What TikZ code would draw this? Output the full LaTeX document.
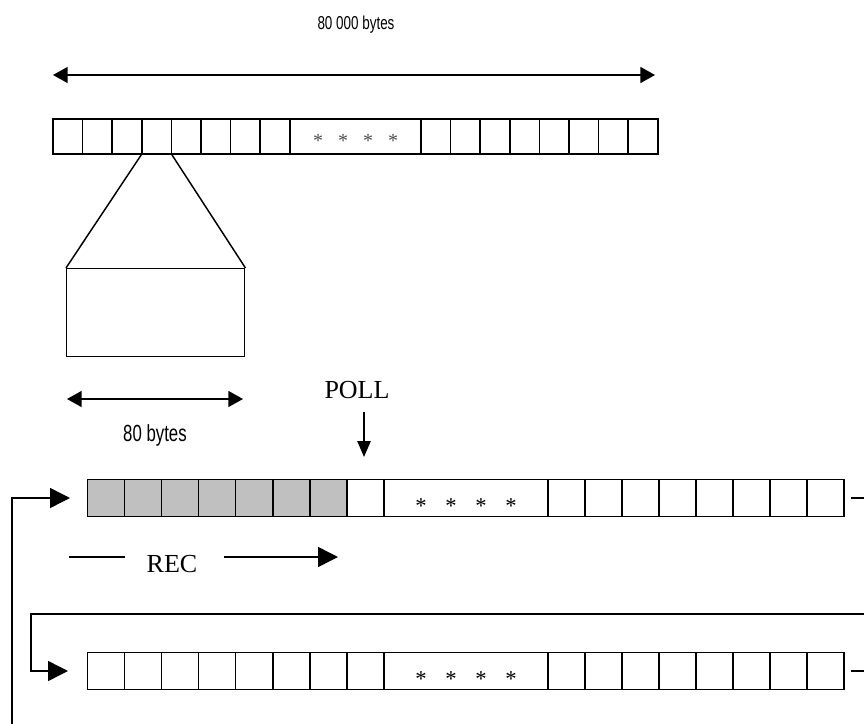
\documentclass[tikz,border=0pt]{standalone}
\usepackage{fontspec}
\setmainfont{Liberation Serif}
\newfontfamily\narrowsans[FakeStretch=0.72]{Liberation Sans}
\usepackage{tikz}
\usetikzlibrary{arrows.meta, positioning, calc}
\definecolor{cellgray}{RGB}{192,192,192}
\newcommand{\cellw}{29.6}
\newcommand{\slotw}{37.1}

\begin{document}
\begin{tikzpicture}[x=0.75pt, y=-0.75pt,
    cellline/.style={line width=1.1pt},
    guide/.style={line width=1.1pt},
    dimtip/.style={line width=1.1pt, {Triangle[length=11pt, width=12pt]}-{Triangle[length=11pt, width=12pt]}},
    polltip/.style={line width=1.1pt, -{Triangle[length=12pt, width=10pt]}},
    bigtip/.style={line width=1.1pt, -{Triangle[length=15pt, width=15pt]}},
    topstar/.style={inner sep=0pt, text=black!70, font=\fontsize{15}{15}\selectfont},
    rowstar/.style={inner sep=0pt, font=\fontsize{17}{17}\selectfont}]
    \useasboundingbox (0,0) rectangle (864,724);

    % Whole buffer : 80 000 bytes
    \node[font=\narrowsans\fontsize{14}{16}\selectfont] (total) at (356,25) {80 000 bytes};
    \coordinate (totL) at (53,75);
    \coordinate (totR) at (655,75);
    \draw[dimtip] (totL) -- (totR);

    \foreach \i in {0,...,7} {
        \draw[cellline] ({53+\cellw*\i},119) rectangle ++(\cellw,35);
        \draw[cellline] ({421+\cellw*\i},119) rectangle ++(\cellw,35);
    }
    \draw[cellline] (289.8,119) rectangle (421,154);
    \foreach \x in {318,343,368,393}
        \node[topstar] (ts\x) at (\x,141) {*};

    % One record blown up
    \coordinate (zl) at (141.8,154);
    \coordinate (zr) at (171.4,154);
    \node[draw, line width=1.1pt, inner sep=0pt, anchor=north west,
          minimum width=178*0.75pt, minimum height=88*0.75pt] (zoombox) at (66,268) {};
    \draw[guide] (zl) -- (zoombox.north west);
    \draw[guide] (zr) -- (zoombox.north east);

    \coordinate (recL) at (67,399);
    \coordinate (recR) at (243,399);
    \draw[dimtip] (recL) -- (recR);
    \node[font=\narrowsans\fontsize{17.5}{20}\selectfont] (bytes) at (155,435) {80 bytes};

    % Poll pointer
    \node[font=\fontsize{19.5}{22}\selectfont] (poll) at (357,390) {POLL};
    \coordinate (pollA) at (364,412);
    \coordinate (pollB) at (364,457);
    \draw[polltip] (pollA) -- (pollB);

    % Buffer being received
    \foreach \i in {0,...,6}
        \draw[cellline, fill=cellgray] ({87.3+\slotw*\i},479.5) rectangle ++(\slotw,37);
    \draw[cellline] (347,479.5) rectangle ++(\slotw,37);
    \draw[cellline] (384.1,479.5) rectangle (548,516.5);
    \foreach \i in {0,...,7}
        \draw[cellline] ({548+37*\i},479.5) rectangle ++(37,37);
    \foreach \x in {421,451,481,511}
        \node[rowstar] (ms\x) at (\x,506) {*};

    % Next buffer
    \foreach \i in {0,...,7}
        \draw[cellline] ({87.3+\slotw*\i},652.5) rectangle ++(\slotw,37);
    \draw[cellline] (384.1,652.5) rectangle (548,689.5);
    \foreach \i in {0,...,7}
        \draw[cellline] ({548+37*\i},652.5) rectangle ++(37,37);
    \foreach \x in {421,451,481,511}
        \node[rowstar] (bs\x) at (\x,679) {*};

    % REC direction
    \node[font=\fontsize{19.5}{22}\selectfont] (rec) at (172,564) {REC};
    \coordinate (recA) at (69,557);
    \coordinate (recB) at (125,557);
    \coordinate (recC) at (224,557);
    \coordinate (recD) at (338,557);
    \draw[guide] (recA) -- (recB);
    \draw[bigtip] (recC) -- (recD);

    % Loops between buffers
    \coordinate (midOut) at (851,498);
    \coordinate (midEdge) at (864,498);
    \coordinate (botOut) at (851,671);
    \coordinate (botEdge) at (864,671);
    \draw[guide] (midOut) -- (midEdge);
    \draw[guide] (botOut) -- (botEdge);

    \coordinate (feedBot) at (12,724);
    \coordinate (midIn) at (70,498);
    \draw[bigtip] (feedBot) |- (midIn);

    \coordinate (wrapR) at (864,614);
    \coordinate (wrapL) at (31,614);
    \coordinate (botIn) at (68,671);
    \draw[bigtip] (wrapR) -- (wrapL) |- (botIn);
\end{tikzpicture}
\end{document}
